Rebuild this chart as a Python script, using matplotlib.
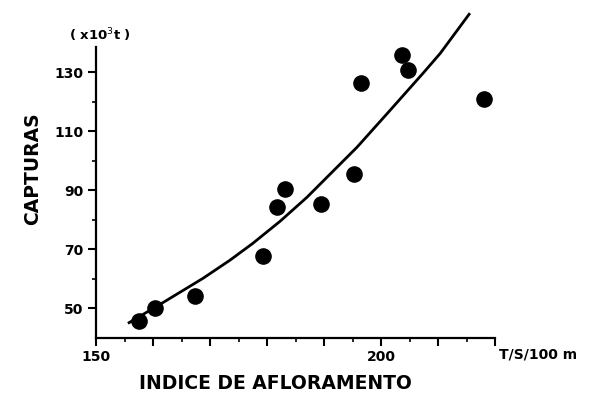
import matplotlib.pyplot as plt
import numpy as np

# observed catches vs upwelling index
indice = [157.5, 160.4, 167.4, 179.3, 181.8, 183.2, 189.5, 195.3, 196.5, 203.7, 204.7, 218.1]
capturas = [45.6, 50.0, 54.1, 67.6, 84.2, 90.3, 85.2, 95.6, 126.3, 135.8, 130.7, 120.8]

# fitted curve
curva_x = [155.6, 161.8, 168.8, 173.5, 177.5, 182.3, 187.0, 195.8, 201.6, 207.4, 210.4, 215.6]
curva_y = [44.9, 52.0, 60.2, 66.3, 72.0, 79.5, 87.6, 104.6, 117.1, 129.7, 136.4, 150.0]

xticks = [150, 160, 170, 180, 190, 200, 210, 220]
xticklabels = ['150', '', '', '', '', '200', '', '']
yticks = [50, 70, 90, 110, 130]

fig = plt.figure(figsize=(6, 4.11), dpi=100)
ax = fig.add_axes([0.16, 0.178, 0.665, 0.79])

ax.plot(curva_x, curva_y, color='black', lw=2, solid_capstyle='butt',
        solid_joinstyle='round', clip_on=False)
ax.scatter(indice, capturas, s=120, color='black', zorder=3, clip_on=False)

ax.set_xlim(150, 220)
ax.set_ylim(40, 150)
ax.spines['top'].set_visible(False)
ax.spines['right'].set_visible(False)
ax.spines['left'].set_bounds(40, 138.5)
for s in ('left', 'bottom'):
    ax.spines[s].set_linewidth(1.6)

ax.set_xticks(xticks)
ax.set_xticklabels(xticklabels)
ax.set_xticks(np.arange(155, 220, 10), minor=True)
ax.set_yticks(yticks)
ax.set_yticks([60, 80, 100, 120], minor=True)
ax.tick_params(which='major', length=6, width=1.5, labelsize=10, pad=3)
ax.tick_params(which='minor', length=3, width=1.2)
for lab in ax.get_xticklabels() + ax.get_yticklabels():
    lab.set_fontweight('bold')

ax.set_ylabel('CAPTURAS', fontsize=13.5, fontweight='bold')
ax.yaxis.set_label_coords(-0.135, 0.52)
ax.set_xlabel('INDICE DE AFLORAMENTO', fontsize=13.5, fontweight='bold')
ax.xaxis.set_label_coords(0.45, -0.11)
ax.text(1.01, -0.03, 'T/S/100 m', transform=ax.transAxes, ha='left', va='top',
        fontsize=10, fontweight='bold')
ax.text(0.01, 0.933, r'( x10$^3$t )', transform=ax.transAxes, ha='center',
        va='center', fontsize=9.5, fontweight='bold')

fig.savefig('out.png', dpi=100)
